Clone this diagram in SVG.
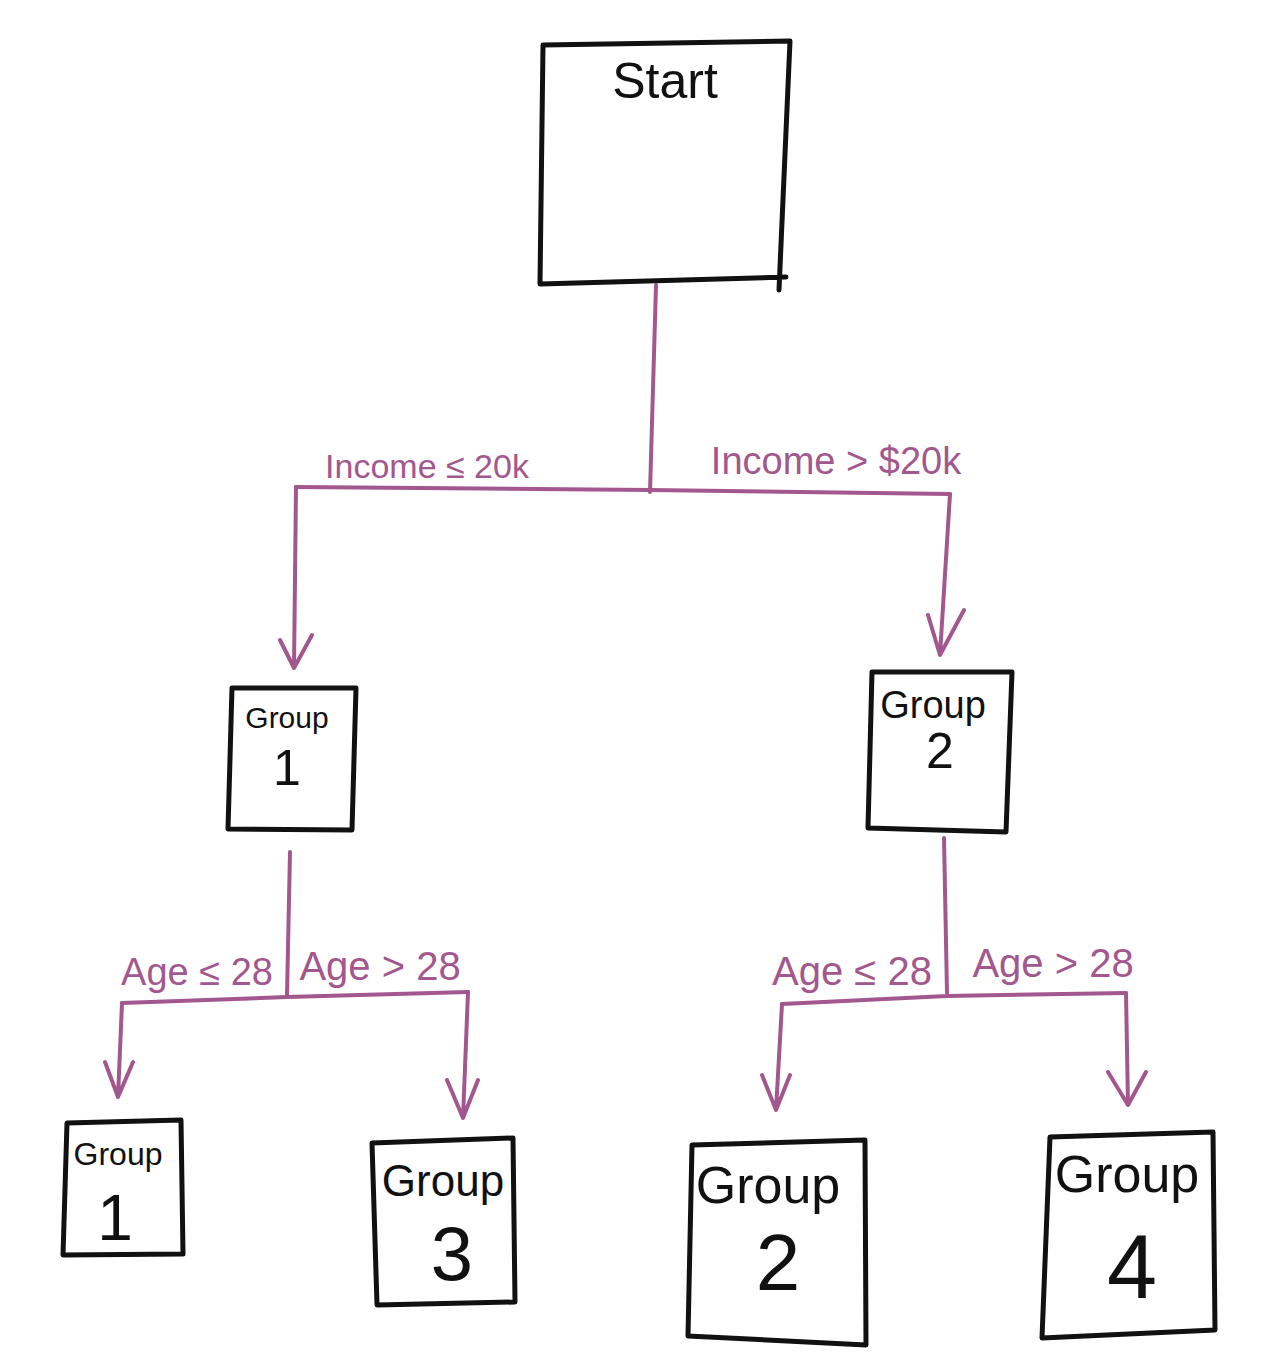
<svg xmlns="http://www.w3.org/2000/svg" width="1267" height="1371" viewBox="0 0 1267 1371">
<style>
.box{fill:none;stroke:#111;stroke-width:5;stroke-linejoin:round;stroke-linecap:round}
.ln{fill:none;stroke:#a3578f;stroke-width:4;stroke-linecap:round;stroke-linejoin:round}
.t{font-family:"Liberation Sans",Arial,sans-serif;fill:#111;text-anchor:middle}
.lb{font-family:"Liberation Sans",Arial,sans-serif;fill:#a3578f;text-anchor:middle}
</style>
<rect width="1267" height="1371" fill="#fff"/>
<g id="connectors">
<path class="ln" d="M656 285 L650 492"/>
<path class="ln" d="M296 487 L650 490 L950 494"/>
<path class="ln" d="M296 487 L294 668 M280 640 L294 668 L312 635"/>
<path class="ln" d="M950 494 L940 655 M928 615 L940 655 L964 610"/>
<text class="lb" x="427" y="478" font-size="34">Income ≤ 20k</text>
<text class="lb" x="836" y="474" font-size="38">Income &gt; $20k</text>
<path class="ln" d="M290 852 L287 995"/>
<path class="ln" d="M122 1003 L287 997 L468 992"/>
<path class="ln" d="M122 1003 L118 1097 M105 1062 L118 1097 L133 1062"/>
<path class="ln" d="M468 992 L463 1118 M447 1080 L463 1118 L478 1080"/>
<text class="lb" x="197" y="985" font-size="38">Age ≤ 28</text>
<text class="lb" x="380" y="980" font-size="40">Age &gt; 28</text>
<path class="ln" d="M944 838 L947 993"/>
<path class="ln" d="M782 1004 L947 996 L1126 993"/>
<path class="ln" d="M782 1004 L776 1110 M762 1075 L776 1110 L790 1075"/>
<path class="ln" d="M1126 993 L1128 1105 M1108 1072 L1128 1105 L1146 1072"/>
<text class="lb" x="852" y="985" font-size="40">Age ≤ 28</text>
<text class="lb" x="1053" y="977" font-size="40">Age &gt; 28</text>
</g>
<g id="start">
<path class="box" d="M543 45 L790 41 L779 290 M786 277 L540 284 L543 45"/>
<text class="t" x="665" y="98" font-size="50">Start</text>
</g>
<g id="group1">
<path class="box" d="M232 688 L356 688 L352 830 L228 829 Z"/>
<text class="t" x="287" y="728" font-size="30">Group</text>
<text class="t" x="287" y="785" font-size="50">1</text>
</g>
<g id="group2">
<path class="box" d="M872 672 L1012 672 L1006 832 L868 828 Z"/>
<text class="t" x="933" y="718" font-size="38">Group</text>
<text class="t" x="940" y="768" font-size="50">2</text>
</g>
<g id="leaf1">
<path class="box" d="M67 1123 L181 1120 L183 1254 L63 1255 Z"/>
<text class="t" x="118" y="1165" font-size="32">Group</text>
<text class="t" x="115" y="1240" font-size="64">1</text>
</g>
<g id="leaf3">
<path class="box" d="M372 1143 L513 1138 L515 1302 L377 1305 Z"/>
<text class="t" x="443" y="1196" font-size="44">Group</text>
<text class="t" x="452" y="1280" font-size="76">3</text>
</g>
<g id="leaf2">
<path class="box" d="M692 1145 L865 1140 L866 1345 L688 1336 Z"/>
<text class="t" x="768" y="1203" font-size="52">Group</text>
<text class="t" x="778" y="1290" font-size="80">2</text>
</g>
<g id="leaf4">
<path class="box" d="M1050 1137 L1213 1132 L1215 1330 L1042 1338 Z"/>
<text class="t" x="1127" y="1192" font-size="52">Group</text>
<text class="t" x="1132" y="1298" font-size="90">4</text>
</g>
</svg>
